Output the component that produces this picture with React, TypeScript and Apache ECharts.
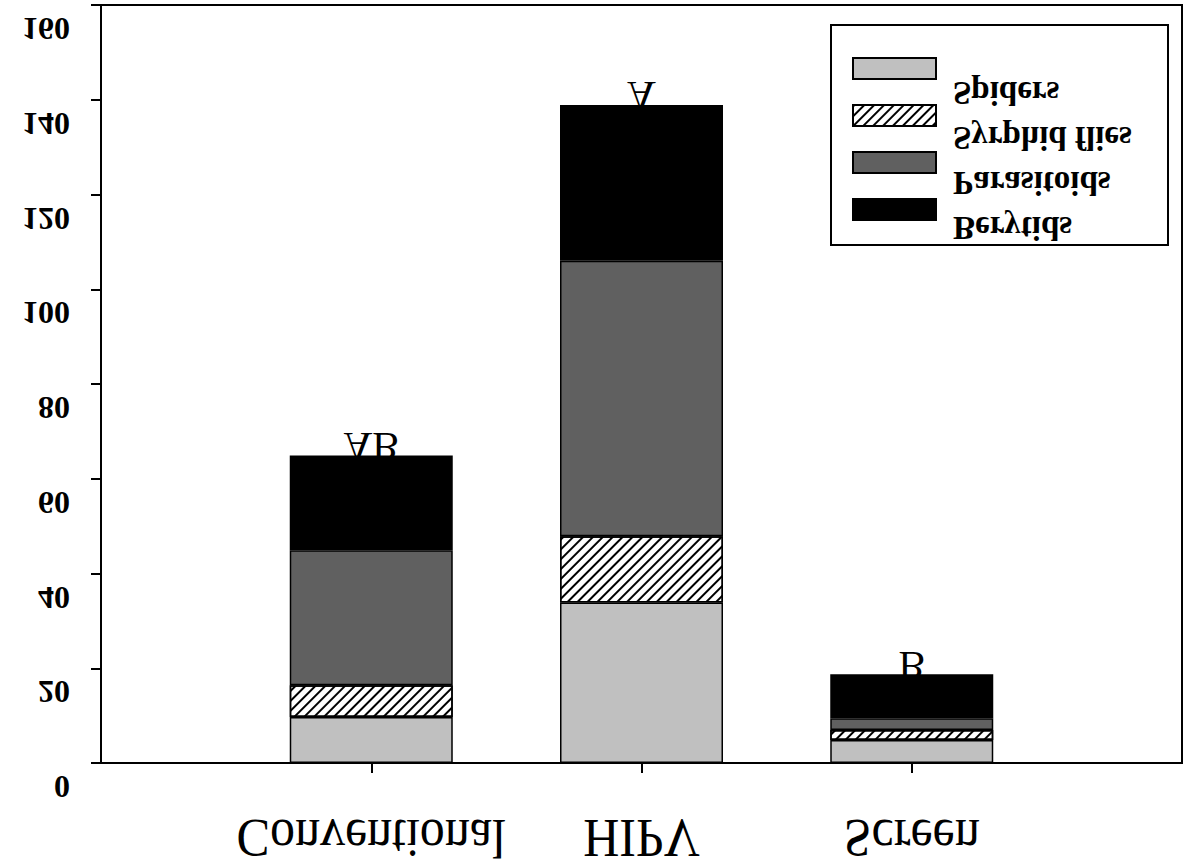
import React, { useEffect, useRef } from "react";
import * as echarts from "echarts";

const categories = ["Conventional", "HIPV", "Screen"];
const seriesNames = ["Spiders", "Syrphid flies", "Parasitoids", "Berytids"];
const spiders = [9.7, 33.9, 4.85];
const syrphidFlies = [6.7, 13.95, 2.1];
const parasitoids = [28.5, 58.15, 2.5];
const berytids = [20.0, 32.9, 9.3];
const groupLetters = ["AB", "A", "B"];
const yTicks = [0, 20, 40, 60, 80, 100, 120, 140, 160];

const FONT = "'Liberation Serif', 'Times New Roman', serif";

export default function App() {
  const ref = useRef<HTMLDivElement>(null);
  useEffect(() => {
    if (!ref.current) return;
    const chart = echarts.init(ref.current, undefined, { renderer: "svg" });
    const axisCats = ["", ...categories, ""];
    const pad = (arr: number[]) => ["-", ...arr, "-"];
    const colors = ["#c0c0c0", "#ffffff", "#606060", "#000000"];
    const values = [spiders, syrphidFlies, parasitoids, berytids];
    const series = seriesNames.map((name, i) => ({
      name,
      type: "bar",
      stack: "total",
      barWidth: 163,
      data: pad(values[i]),
      itemStyle: {
        color: colors[i],
        borderColor: "#000",
        borderWidth: 1.5,
        decal:
          i === 1
            ? {
                symbol: "rect",
                symbolSize: 1,
                color: "#000",
                backgroundColor: "#fff",
                dashArrayX: [1, 0],
                dashArrayY: [2, 5],
                rotation: -Math.PI / 4,
              }
            : "none",
      },
    }));
    chart.setOption({
      animation: false,
      backgroundColor: "#fff",
      aria: { enabled: false, decal: { show: false } },
      grid: {
        left: 101,
        right: 8,
        top: 5,
        bottom: 104,
        show: true,
        borderColor: "#000",
        borderWidth: 2,
        backgroundColor: "transparent",
      },
      legend: {
        show: true,
        orient: "vertical",
        left: 852,
        top: 57,
        padding: 0,
        itemWidth: 83,
        itemHeight: 21,
        itemGap: 24,
        icon: "rect",
        selectedMode: false,
        formatter: () => "",
        textStyle: { fontSize: 1, color: "transparent" },
        data: seriesNames,
      },
      xAxis: {
        type: "category",
        data: axisCats,
        boundaryGap: false,
        axisLine: { lineStyle: { color: "#000", width: 2 } },
        axisTick: {
          show: true,
          length: 10,
          interval: (idx: number) => idx >= 1 && idx <= categories.length,
          lineStyle: { color: "#000", width: 2 },
        },
        axisLabel: { show: false },
        splitLine: { show: false },
      },
      yAxis: {
        type: "value",
        min: 0,
        max: 160,
        interval: 20,
        axisLine: { show: true, lineStyle: { color: "#000", width: 2 } },
        axisTick: { show: true, length: 10, lineStyle: { color: "#000", width: 2 } },
        axisLabel: { show: false },
        splitLine: { show: false },
      },
      series,
    });

    const graphic: any[] = [];
    // y tick labels (vertically flipped)
    yTicks.forEach((t) => {
      const py = chart.convertToPixel({ yAxisIndex: 0 }, t) as number;
      graphic.push({
        type: "text",
        x: 70,
        y: py + 24,
        scaleY: -1,
        silent: true,
        style: {
          text: String(t),
          font: `bold 32px ${FONT}`,
          fill: "#000",
          textAlign: "right",
          textVerticalAlign: "middle",
        },
      });
    });
    // x category labels
    categories.forEach((c) => {
      const px = chart.convertToPixel({ xAxisIndex: 0 }, c) as number;
      graphic.push({
        type: "text",
        x: px,
        y: 838,
        scaleY: -1.08,
        silent: true,
        style: {
          text: c,
          font: `50px ${FONT}`,
          fill: "#000",
          textAlign: "center",
          textVerticalAlign: "middle",
        },
      });
    });
    // group letters above bars
    categories.forEach((c, i) => {
      const total = spiders[i] + syrphidFlies[i] + parasitoids[i] + berytids[i];
      const [px, py] = chart.convertToPixel({ gridIndex: 0 }, [c, total]) as number[];
      graphic.push({
        type: "text",
        x: px,
        y: py - 9,
        z: 0,
        scaleY: -1,
        silent: true,
        style: {
          text: groupLetters[i],
          font: `40px ${FONT}`,
          fill: "#000",
          textAlign: "center",
          textVerticalAlign: "middle",
        },
      });
    });
    // legend box
    graphic.push({
      type: "rect",
      z: 3,
      shape: { x: 831, y: 25, width: 337, height: 220 },
      style: { fill: "#fff", stroke: "#000", lineWidth: 2 },
    });
    // legend labels
    seriesNames.forEach((n, i) => {
      graphic.push({
        type: "text",
        z: 5,
        x: 953,
        y: 93 + i * 45,
        scaleY: -1,
        silent: true,
        style: {
          text: n,
          font: `bold 33px ${FONT}`,
          fill: "#000",
          textAlign: "left",
          textVerticalAlign: "middle",
        },
      });
    });
    chart.setOption({ graphic });

    return () => chart.dispose();
  }, []);
  return (
    <div
      ref={ref}
      style={{ position: "absolute", left: 0, top: 0, width: 1190, height: 867 }}
    />
  );
}
